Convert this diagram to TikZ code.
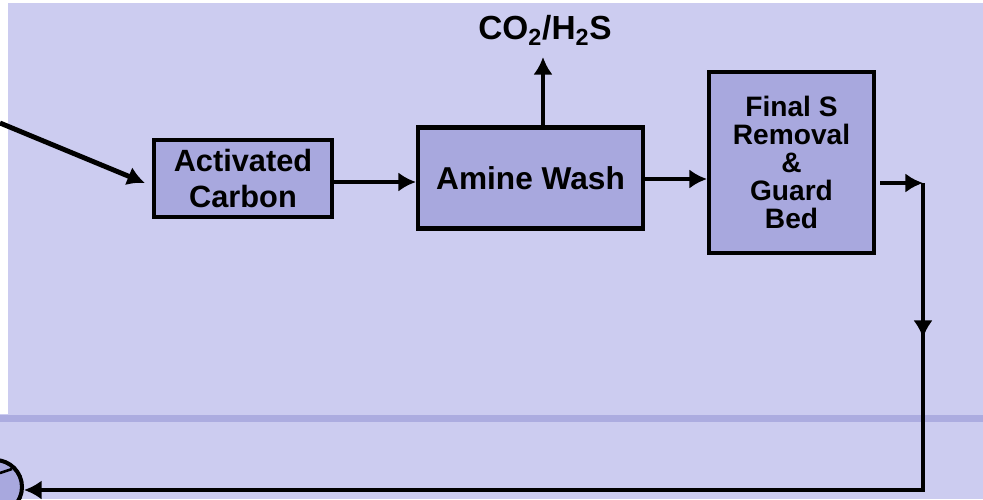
\documentclass[tikz,border=0pt]{standalone}
\usepackage{fontspec}
\setmainfont{Liberation Sans}
\usetikzlibrary{arrows.meta,calc}

\definecolor{fundo}{RGB}{204,204,240}
\definecolor{faixa}{RGB}{172,172,224}
\definecolor{caixa}{RGB}{168,168,222}

\tikzset{
  etapa/.style={draw,line width=2.3pt,fill=caixa,align=center,font=\bfseries,inner sep=0pt},
  fluxo/.style={line width=2.8pt}
}

\begin{document}
\begin{tikzpicture}[>={Latex[length=10pt,width=11pt]}]
	\useasboundingbox (0,0) rectangle (19.66,9.98);
	\clip (0,0) rectangle (19.66,9.98);
	% fundo
	\fill[white] (0,0) rectangle (19.66,9.98);
	\fill[fundo] (0.16,1.68) rectangle (19.66,9.92);
	\fill[fundo] (0,0) rectangle (19.66,1.70);
	\fill[faixa] (0,1.54) rectangle (19.66,1.68);
	% etapas
	\node[etapa,minimum width=3.56cm,minimum height=1.54cm,
	  font=\fontsize{17.5}{20.5}\selectfont\bfseries] (carvao) at (4.86,6.41) {Activated\\Carbon};
	\node[etapa,minimum width=4.5cm,minimum height=2.02cm,
	  font=\fontsize{18}{20}\selectfont\bfseries] (amina) at (10.61,6.42) {Amine Wash};
	\node[etapa,minimum width=3.3cm,minimum height=3.62cm,
	  font=\fontsize{16}{16}\selectfont\bfseries] (guarda) at (15.83,6.73) {Final S\\Removal\\\&\\Guard\\Bed};
	\node[font=\fontsize{19}{20}\selectfont\bfseries] (gas) at (10.9,9.38) {CO\textsubscript{2}/H\textsubscript{2}S};
	% pontos
	\coordinate (entrada) at (0,7.52);
	\coordinate (saida) at (10.86,8.84);
	\coordinate (canto) at (18.46,6.32);
	\coordinate (baixo) at (18.46,0.18);
	\node[draw,line width=2.3pt,fill=caixa,circle,minimum size=1.08cm] (bomba) at (-0.1,0.24) {};
	\draw[line width=1.5pt] (0,0.52) -- (0.24,0.60);
	% correntes
	\draw[fluxo,->] (entrada) -- ($(carvao.west)+(-0.14,-0.09)$);
	\draw[fluxo,->] ($(carvao.east)+(0,-0.07)$) -- ($(carvao.east -| amina.west)+(0,-0.07)$);
	\draw[fluxo,->] ($(amina.east)+(0,-0.02)$) -- ($(amina.east -| guarda.west)+(0,-0.02)$);
	\draw[fluxo,->] (amina.north -| saida) -- (saida);
	\draw[fluxo,->] ($(guarda.east |- canto)+(0.08,0)$) -- (canto);
	\draw[fluxo,->] (canto) -- (18.46,3.22);
	\draw[fluxo,->] (18.46,3.4) -- (baixo) -- (bomba.east |- baixo);
\end{tikzpicture}
\end{document}
